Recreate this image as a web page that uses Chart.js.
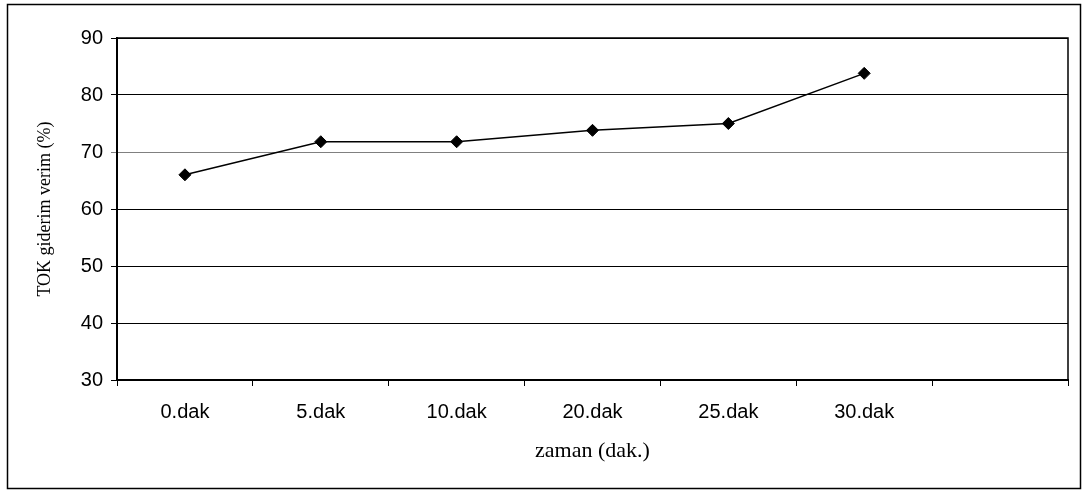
<!DOCTYPE html>
<html>
<head>
<meta charset="utf-8">
<script src="https://cdn.jsdelivr.net/npm/chart.js@4"></script>
<style>
    html, body { margin: 0; padding: 0; background: #fff; }
    canvas { display: block; }
</style>
</head>
<body>
<canvas id="tokChart" width="1086" height="491"></canvas>
<script>
// Data
const categories = ["0.dak", "5.dak", "10.dak", "20.dak", "25.dak", "30.dak", ""];
const tokRemoval = [66, 71.8, 71.8, 73.8, 75, 83.8, null];
const yMin = 30;
const yMax = 90;
const yStep = 10;

// Frame around the plot area and around the whole picture
const framePlugin = {
    id: "frame",
    afterDraw(chart) {
        const ctx = chart.ctx;
        const a = chart.chartArea;
        ctx.save();
        ctx.strokeStyle = "#000";
        ctx.lineWidth = 1.5;
        ctx.beginPath();
        ctx.moveTo(a.left, a.top);
        ctx.lineTo(a.right, a.top);
        ctx.lineTo(a.right, a.bottom);
        ctx.stroke();
        ctx.strokeRect(7.5, 4.5, 1073, 484);
        ctx.restore();
    }
};

new Chart(document.getElementById("tokChart"), {
    type: "line",
    data: {
        labels: categories,
        datasets: [{
            label: "TOK giderim verim",
            data: tokRemoval,
            borderColor: "#000",
            borderWidth: 1.5,
            pointStyle: "rectRot",
            pointRadius: 6,
            pointBackgroundColor: "#000",
            pointBorderColor: "#000",
            pointBorderWidth: 1,
            tension: 0
        }]
    },
    options: {
        responsive: false,
        animation: false,
        layout: {
            padding: { top: 38, right: 18, left: 30, bottom: 23 }
        },
        plugins: {
            legend: { display: false },
            tooltip: { enabled: false }
        },
        scales: {
            x: {
                offset: true,
                grid: {
                    offset: true,
                    drawOnChartArea: false,
                    drawTicks: true,
                    tickLength: 6,
                    color: "#000"
                },
                border: { display: true, color: "#000", width: 2 },
                ticks: {
                    color: "#000",
                    padding: 14,
                    maxRotation: 0,
                    font: { family: "Liberation Sans, Arial, sans-serif", size: 20 }
                },
                title: {
                    display: true,
                    text: "zaman (dak.)",
                    color: "#000",
                    font: { family: "Liberation Serif, Times New Roman, serif", size: 22 }
                },
                afterFit(scale) { scale.height = 88; }
            },
            y: {
                min: yMin,
                max: yMax,
                ticks: {
                    stepSize: yStep,
                    color: "#000",
                    padding: 8,
                    font: { family: "Liberation Sans, Arial, sans-serif", size: 20 }
                },
                grid: {
                    drawTicks: true,
                    tickLength: 6,
                    lineWidth: 1,
                    color: ctx => (ctx.tick && ctx.tick.value === 70) ? "#808080" : "#000"
                },
                border: { display: true, color: "#000", width: 2 },
                title: {
                    display: true,
                    text: "TOK giderim verim (%)",
                    color: "#000",
                    font: { family: "Liberation Serif, Times New Roman, serif", size: 18 }
                },
                afterFit(scale) { scale.width = 87; }
            }
        }
    },
    plugins: [framePlugin]
});
</script>
</body>
</html>
